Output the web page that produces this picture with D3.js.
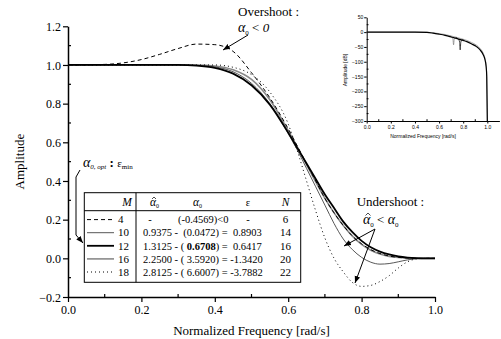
<!DOCTYPE html>
<html>
<head>
<meta charset="utf-8">
<script src="https://cdn.jsdelivr.net/npm/d3@7"></script>
<style>
  body { margin: 0; background: #fff; }
  svg text { font-family: "Liberation Serif", "Times New Roman", serif; fill: #000; }
  svg text.sans { font-family: "Liberation Sans", Arial, sans-serif; }
</style>
</head>
<body>
<svg width="501" height="339"></svg>
<script>
// frequency samples shared by all main curves
const freq = [0, 0.1, 0.2, 0.25, 0.3, 0.35, 0.4, 0.45, 0.5, 0.55, 0.6, 0.625, 0.65, 0.675,
  0.7, 0.725, 0.75, 0.775, 0.8, 0.825, 0.85, 0.875, 0.9, 0.925, 0.95, 0.975, 1.0];
const ampM4 = [1.0, 1.003, 1.028, 1.055, 1.085, 1.108, 1.105, 1.07, 0.96, 0.83, 0.67, 0.58, 0.49, 0.40,
  0.31, 0.235, 0.17, 0.115, 0.075, 0.045, 0.025, 0.012, 0.005, 0.002, 0, 0, 0];
const ampM10 = [1.0, 1.0, 1.0, 1.0, 1.0, 0.998, 0.99, 0.965, 0.905, 0.80, 0.645, 0.56, 0.465, 0.37,
  0.275, 0.18, 0.10, 0.045, 0.005, -0.02, -0.03, -0.027, -0.018, -0.008, -0.002, 0, 0];
const ampM12 = [1.0, 1.0, 1.0, 1.0, 1.0, 0.997, 0.985, 0.955, 0.895, 0.795, 0.65, 0.57, 0.49, 0.41,
  0.33, 0.26, 0.19, 0.135, 0.09, 0.057, 0.035, 0.02, 0.01, 0.004, 0.001, 0, 0];
const ampM16 = [1.0, 1.0, 1.0, 1.0, 1.0, 1.0, 0.995, 0.975, 0.925, 0.82, 0.66, 0.575, 0.485, 0.395,
  0.31, 0.235, 0.17, 0.115, 0.072, 0.042, 0.022, 0.01, 0.004, 0.001, 0, 0, 0];
const ampM18 = [1.0, 1.0, 1.0, 1.0, 1.0, 1.0, 1.0, 0.988, 0.95, 0.86, 0.695, 0.555, 0.40, 0.245,
  0.105, 0.0, -0.07, -0.125, -0.145, -0.14, -0.12, -0.09, -0.05, -0.018, -0.003, 0, 0];

// table contents
const tableM = [4, 10, 12, 16, 18];
const tableAlphaHat = ["-", "0.9375", "1.3125", "2.2500", "2.8125"];
const tableAlpha = ["(-0.4569)<0", "(0.0472)", "( 0.6708)", "( 3.5920)", "( 6.6007)"];
const tableEps = ["-", "0.8903", "0.6417", "-1.3420", "-3.7882"];
const tableN = [6, 14, 16, 20, 22];

// inset (dB) curves
const insetFreq = [0, 0.4, 0.5, 0.55, 0.6, 0.65, 0.69, 0.75, 0.8, 0.83, 0.87, 0.91, 0.94, 0.967, 0.98, 0.99, 0.995, 1.0];
const insetDb = [0, 0, -1, -3.5, -7, -11, -15, -22, -28, -32, -40, -49, -60, -77, -92, -116, -150, -300];
const insetDbUpper = [0, 0, -0.5, -2, -5, -8, -12, -18, -24, -28, -35, -44, -55, -72, -88, -112, -150, -300];
const notchFreqA = [0.69, 0.705, 0.715, 0.72, 0.725, 0.735, 0.75];
const notchDbA = [-13, -17, -24, -43, -25, -19, -20];
const notchFreqB = [0.74, 0.76, 0.77, 0.775, 0.78, 0.79, 0.81];
const notchDbB = [-19, -24, -33, -60, -34, -26, -28];

const yTicks = [-0.2, 0, 0.2, 0.4, 0.6, 0.8, 1.0, 1.2];
const yMinor = [-0.1, 0.1, 0.3, 0.5, 0.7, 0.9, 1.1];
const xTicks = [0, 0.2, 0.4, 0.6, 0.8, 1.0];
const xMinor = [0.1, 0.3, 0.5, 0.7, 0.9];
const insetYTicks = [50, 0, -50, -100, -150, -200, -250, -300];
const insetYMinor = [25, -25, -75, -125, -175, -225, -275];
const insetXTicks = [0, 0.2, 0.4, 0.6, 0.8, 1.0];

const svg = d3.select("svg");

// arrow marker
svg.append("defs").append("marker")
  .attr("id", "arrow")
  .attr("viewBox", "0 0 10 10")
  .attr("refX", 10).attr("refY", 5)
  .attr("markerWidth", 7).attr("markerHeight", 7)
  .attr("markerUnits", "userSpaceOnUse")
  .attr("orient", "auto")
  .append("path").attr("d", "M0,1 L10,5 L0,9 Z").attr("fill", "#000");

// ---------- main plot ----------
const x = d3.scaleLinear().domain([0, 1]).range([68, 435]);
const y = d3.scaleLinear().domain([-0.2, 1.2]).range([297, 26.3]);

const yAxis = svg.append("g")
  .attr("transform", `translate(${x(0)},0)`)
  .call(d3.axisLeft(y).tickValues(yTicks).tickFormat(d3.format(".1f"))
    .tickSize(5).tickSizeOuter(0).tickPadding(2));
const xAxis = svg.append("g")
  .attr("transform", `translate(0,${y(-0.2)})`)
  .call(d3.axisBottom(x).tickValues(xTicks).tickFormat(d3.format(".1f"))
    .tickSize(5).tickSizeOuter(0).tickPadding(3));
[xAxis, yAxis].forEach((g) => {
  g.attr("font-size", 12);
  g.select(".domain").attr("stroke-width", 1.5);
  g.selectAll(".tick line").attr("stroke-width", 1.2);
});
yAxis.selectAll(".tick text").attr("dy", "0.36em");

svg.append("g").selectAll("line").data(yMinor).join("line")
  .attr("x1", x(0)).attr("x2", x(0) + 3)
  .attr("y1", (d) => y(d)).attr("y2", (d) => y(d))
  .attr("stroke", "#000").attr("stroke-width", 1.2);
svg.append("g").selectAll("line").data(xMinor).join("line")
  .attr("x1", (d) => x(d)).attr("x2", (d) => x(d))
  .attr("y1", y(-0.2)).attr("y2", y(-0.2) - 3)
  .attr("stroke", "#000").attr("stroke-width", 1.2);

svg.append("text")
  .attr("transform", `translate(23.5,${(y(-0.2) + y(1.2)) / 2}) rotate(-90)`)
  .attr("text-anchor", "middle").attr("font-size", 13)
  .text("Amplitude");
svg.append("text")
  .attr("x", (x(0) + x(1)) / 2).attr("y", 335)
  .attr("text-anchor", "middle").attr("font-size", 13)
  .text("Normalized Frequency [rad/s]");

const styles = {
  4: { stroke: "#000", width: 1, dash: "4,3" },
  10: { stroke: "#444", width: 0.9, dash: null },
  12: { stroke: "#000", width: 1.8, dash: null },
  16: { stroke: "#8a8a8a", width: 1.6, dash: null },
  18: { stroke: "#000", width: 1, dash: "1,3" },
};
const series = [
  { m: 16, values: ampM16 },
  { m: 10, values: ampM10 },
  { m: 4, values: ampM4 },
  { m: 18, values: ampM18 },
  { m: 12, values: ampM12 },
];
const line = d3.line()
  .x((d) => x(d[0]))
  .y((d) => y(d[1]))
  .curve(d3.curveMonotoneX);

svg.append("g").selectAll("path").data(series).join("path")
  .attr("d", (s) => line(freq.map((f, i) => [f, s.values[i]])))
  .attr("fill", "none")
  .attr("stroke", (s) => styles[s.m].stroke)
  .attr("stroke-width", (s) => styles[s.m].width)
  .attr("stroke-dasharray", (s) => styles[s.m].dash);

// hat accent (small caret) drawn above a glyph
const hat = (cx, top, w) =>
  svg.append("path")
    .attr("d", `M${cx - w},${top + w} L${cx},${top} L${cx + w},${top + w}`)
    .attr("fill", "none").attr("stroke", "#000").attr("stroke-width", 0.7);

// ---------- table ----------
const tb = { left: 84.3, right: 300.7, top: 192.7, bottom: 282.3, head: 210.7, split: 136 };
const table = svg.append("g");
table.append("rect")
  .attr("x", tb.left).attr("y", tb.top)
  .attr("width", tb.right - tb.left).attr("height", tb.bottom - tb.top)
  .attr("fill", "#fff").attr("stroke", "#000").attr("stroke-width", 1);
table.append("line").attr("x1", tb.left).attr("x2", tb.right)
  .attr("y1", tb.head).attr("y2", tb.head).attr("stroke", "#000");
table.append("line").attr("x1", tb.split).attr("x2", tb.split)
  .attr("y1", tb.top).attr("y2", tb.bottom).attr("stroke", "#000");

const fs = 10.5;
const head = table.append("g").attr("font-size", fs + 1);
head.append("text").attr("x", 127).attr("y", 206).attr("text-anchor", "middle")
  .attr("font-style", "italic").text("M");
const h1 = head.append("text").attr("x", 150).attr("y", 206);
h1.append("tspan").attr("font-style", "italic").text("\u03B1");
h1.append("tspan").attr("font-size", 6).attr("dy", 2).text("0");
hat(154, 197, 2);
const h2 = head.append("text").attr("x", 193).attr("y", 206);
h2.append("tspan").attr("font-style", "italic").text("\u03B1");
h2.append("tspan").attr("font-size", 6).attr("dy", 2).text("0");
head.append("text").attr("x", 248).attr("y", 206).attr("text-anchor", "middle")
  .attr("font-size", fs).text("\u03B5");
head.append("text").attr("x", 285.5).attr("y", 206).attr("text-anchor", "middle")
  .attr("font-style", "italic").text("N");

const rowY = (i) => 223.3 + i * 13.1;
tableM.forEach((m, i) => {
  const cy = rowY(i) - 3.7;
  const st = styles[m];
  table.append("line")
    .attr("x1", 87).attr("x2", 114).attr("y1", cy).attr("y2", cy)
    .attr("stroke", st.stroke).attr("stroke-width", st.width)
    .attr("stroke-dasharray", st.dash);
  table.append("text").attr("x", 118).attr("y", rowY(i)).attr("font-size", fs + 0.5).text(m);
  table.append("text").attr("x", 285.5).attr("y", rowY(i)).attr("text-anchor", "middle")
    .attr("font-size", fs + 0.5).text(tableN[i]);
  if (i === 0) {
    table.append("text").attr("x", 150).attr("y", rowY(i)).attr("text-anchor", "middle")
      .attr("font-size", fs).text(tableAlphaHat[i]);
    table.append("text").attr("x", 178).attr("y", rowY(i))
      .attr("font-size", fs).text(tableAlpha[i]);
    table.append("text").attr("x", 248).attr("y", rowY(i)).attr("text-anchor", "middle")
      .attr("font-size", fs).text(tableEps[i]);
  } else {
    const t = table.append("text").attr("x", 143).attr("y", rowY(i))
      .attr("font-size", fs).style("white-space", "pre");
    const gap1 = i === 1 ? " -  " : " - ";
    const eq = tableEps[i].startsWith("-") ? " = " : " =  ";
    t.append("tspan").text(tableAlphaHat[i] + gap1);
    if (m === 12) {
      t.append("tspan").text("( ");
      t.append("tspan").attr("font-weight", "bold").text("0.6708");
      t.append("tspan").text(")");
    } else {
      t.append("tspan").text(tableAlpha[i]);
    }
    t.append("tspan").text(eq + tableEps[i]);
  }
});

// ---------- annotations ----------
const over = svg.append("g").attr("font-size", 13);
over.append("text").attr("x", 238).attr("y", 16).text("Overshoot :");
const o2 = over.append("text").attr("x", 238).attr("y", 32);
o2.append("tspan").attr("font-style", "italic").attr("font-size", 14).text("\u03B1");
o2.append("tspan").attr("font-size", 7).attr("dy", 2.5).text("0");
o2.append("tspan").attr("dy", -2.5).style("white-space", "pre").text(" < ");
o2.append("tspan").attr("font-style", "italic").text("0");
svg.append("line").attr("x1", 248).attr("y1", 35).attr("x2", 223).attr("y2", 50)
  .attr("stroke", "#000").attr("marker-end", "url(#arrow)");

const under = svg.append("g").attr("font-size", 13);
under.append("text").attr("x", 356.7).attr("y", 206).text("Undershoot :");
const u2 = under.append("text").attr("x", 363).attr("y", 224);
u2.append("tspan").attr("font-style", "italic").attr("font-size", 14).text("\u03B1");
u2.append("tspan").attr("font-size", 7).attr("dy", 2.5).text("0");
u2.append("tspan").attr("dy", -2.5).style("white-space", "pre").text(" < ");
u2.append("tspan").attr("font-style", "italic").attr("font-size", 14).text("\u03B1");
u2.append("tspan").attr("font-size", 7).attr("dy", 2.5).text("0");
hat(368, 213, 2.5);
svg.append("line").attr("x1", 375).attr("y1", 229).attr("x2", 344).attr("y2", 246)
  .attr("stroke", "#000").attr("marker-end", "url(#arrow)");
svg.append("line").attr("x1", 375).attr("y1", 229).attr("x2", 355).attr("y2", 283)
  .attr("stroke", "#000").attr("marker-end", "url(#arrow)");

const opt = svg.append("text").attr("x", 83).attr("y", 167).attr("font-size", 13);
opt.append("tspan").attr("font-style", "italic").attr("font-size", 14).text("\u03B1");
opt.append("tspan").attr("font-style", "italic").attr("font-size", 7).attr("dy", 2).text("0, opt");
opt.append("tspan").attr("dy", -2).attr("font-weight", "bold").style("white-space", "pre").text(" : ");
opt.append("tspan").attr("font-size", 11).text("\u03B5");
opt.append("tspan").attr("font-size", 7).attr("dy", 2).text("min");
svg.append("path")
  .attr("d", "M80,170 L76,177 L76,235 L83,243")
  .attr("fill", "none").attr("stroke", "#000").attr("marker-end", "url(#arrow)");

// ---------- inset ----------
const xi = d3.scaleLinear().domain([0, 1.1]).range([366.7, 499.4]);
const yi = d3.scaleLinear().domain([-300, 50]).range([121, 17.3]);
const iy = svg.append("g").attr("transform", `translate(${xi(0)},0)`)
  .call(d3.axisLeft(yi).tickValues(insetYTicks).tickSize(2.5).tickSizeOuter(0).tickPadding(1));
const ix = svg.append("g").attr("transform", `translate(0,${yi(-300)})`)
  .call(d3.axisBottom(xi).tickValues(insetXTicks).tickFormat(d3.format(".1f"))
    .tickSize(2.5).tickSizeOuter(0).tickPadding(1.5));
[iy, ix].forEach((g) => {
  g.attr("font-size", 5);
  g.selectAll("text").attr("class", "sans");
  g.select(".domain").attr("stroke-width", 1);
});
svg.append("g").selectAll("line").data(xMinor).join("line")
  .attr("x1", (d) => xi(d)).attr("x2", (d) => xi(d))
  .attr("y1", yi(-300)).attr("y2", yi(-300) - 1.8).attr("stroke", "#000");
svg.append("g").selectAll("line").data(insetYMinor).join("line")
  .attr("x1", xi(0)).attr("x2", xi(0) + 1.8)
  .attr("y1", (d) => yi(d)).attr("y2", (d) => yi(d)).attr("stroke", "#000");
svg.append("text").attr("class", "sans")
  .attr("transform", `translate(346.5,70) rotate(-90)`)
  .attr("text-anchor", "middle").attr("font-size", 5)
  .text("Amplitude [dB]");
svg.append("text").attr("class", "sans").attr("x", 423).attr("y", 137.5)
  .attr("text-anchor", "middle").attr("font-size", 5)
  .text("Normalized Frequency [rad/s]");

const iline = d3.line().x((d) => xi(d[0])).y((d) => yi(d[1])).curve(d3.curveMonotoneX);
svg.append("path").attr("d", iline(insetFreq.map((f, i) => [f, insetDbUpper[i]])))
  .attr("fill", "none").attr("stroke", "#999").attr("stroke-width", 0.8);
svg.append("path").attr("d", iline(notchFreqA.map((f, i) => [f, notchDbA[i]])))
  .attr("fill", "none").attr("stroke", "#888").attr("stroke-width", 0.8);
svg.append("path").attr("d", iline(notchFreqB.map((f, i) => [f, notchDbB[i]])))
  .attr("fill", "none").attr("stroke", "#222").attr("stroke-width", 0.9);
svg.append("path").attr("d", iline(insetFreq.map((f, i) => [f, insetDb[i]])))
  .attr("fill", "none").attr("stroke", "#000").attr("stroke-width", 1.2);
</script>
</body>
</html>
